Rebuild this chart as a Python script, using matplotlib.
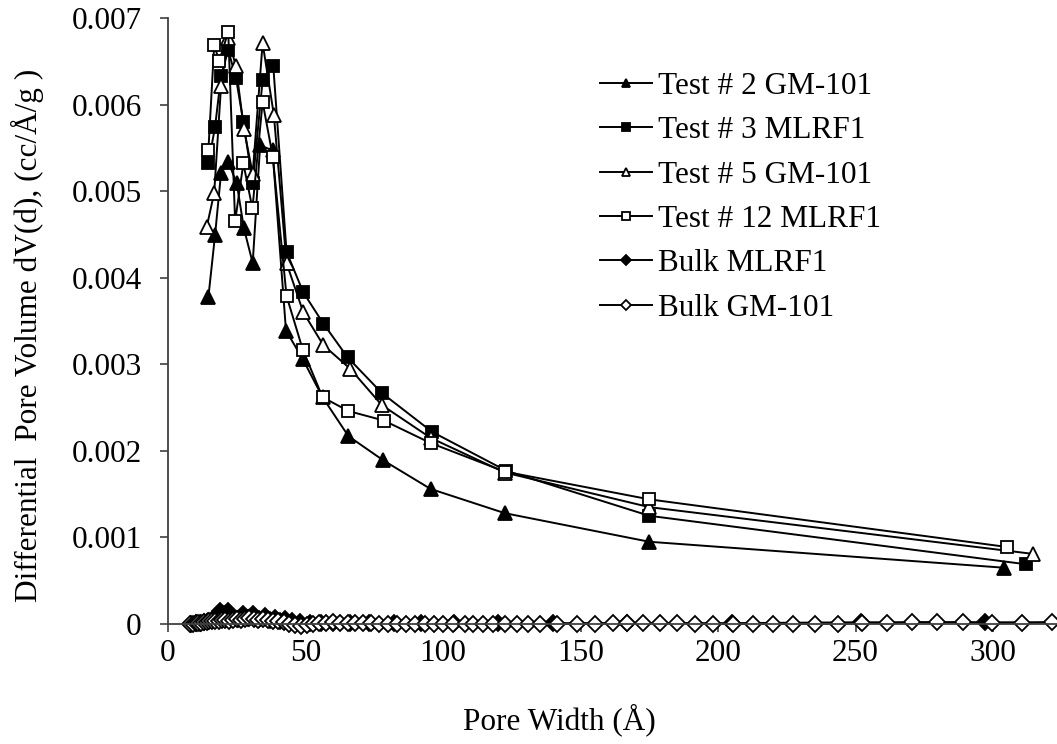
import matplotlib
matplotlib.use("Agg")
import matplotlib.pyplot as plt
from matplotlib.ticker import FixedLocator, FuncFormatter

plt.rcParams['font.family'] = ['Liberation Serif', 'DejaVu Serif']

# ---------------- data ----------------
t2_x = [14.7, 17.1, 19.3, 21.9, 25.0, 27.6, 30.8, 33.5, 38.0, 42.9, 49.0, 56.2, 65.6, 78.3, 95.5, 122.5, 175.0, 304.0]
t2_y = [0.00378, 0.00449, 0.00521, 0.00534, 0.00509, 0.00457, 0.00417, 0.00553, 0.00547, 0.00339,
        0.00306, 0.00262, 0.00217, 0.00189, 0.00156, 0.00128, 0.00095, 0.00065]

t3_x = [14.7, 17.1, 19.3, 21.9, 24.7, 27.4, 30.8, 34.4, 38.3, 43.1, 49.2, 56.5, 65.3, 77.7, 96.0, 123.0, 175.0, 312.0]
t3_y = [0.00532, 0.00574, 0.00633, 0.00663, 0.00631, 0.00580, 0.00509, 0.00628, 0.00644, 0.00430,
        0.00383, 0.00347, 0.00308, 0.00267, 0.00222, 0.00177, 0.00125, 0.00069]

t5_x = [14.1, 16.8, 19.3, 21.9, 24.7, 27.6, 30.8, 34.4, 38.5, 43.1, 49.2, 56.5, 66.2, 77.7, 95.5, 122.5, 175.0, 314.5]
t5_y = [0.00459, 0.00498, 0.00622, 0.00677, 0.00644, 0.00572, 0.00520, 0.00671, 0.00588, 0.00417,
        0.00360, 0.00322, 0.00295, 0.00253, 0.00215, 0.00175, 0.00135, 0.00081]

t12_x = [14.7, 16.8, 18.6, 21.9, 24.4, 27.4, 30.7, 34.4, 38.1, 43.1, 49.0, 56.2, 65.6, 78.5, 95.5, 122.5, 175.0, 305.0]
t12_y = [0.00548, 0.00669, 0.00650, 0.00684, 0.00465, 0.00532, 0.00480, 0.00603, 0.00540, 0.00379,
         0.00317, 0.00262, 0.00246, 0.00235, 0.00209, 0.00176, 0.00144, 0.00089]

bulk_ml_x = [8.5, 10.0, 11.5, 13.0, 14.5, 16.0, 17.5, 18.9, 20.3, 21.8, 23.5, 25.3, 27.3, 29.0, 30.9, 33.0,
             35.3, 37.0, 38.9, 40.7, 42.5, 45.0, 48.0, 51.5, 55.5, 60.0, 66.0, 73.0, 82.0, 92.0, 104.0,
             120.0, 140.0, 167.0, 205.0, 252.0, 297.0, 330.0]
bulk_ml_y = [0.00000, 0.00001, 0.00001, 0.00002, 0.00003, 0.00005, 0.00009, 0.00015, 0.00012, 0.00015,
             0.00008, 0.00006, 0.000115, 0.00007, 0.000115, 0.00006, 0.00009, 0.00005, 0.00007, 0.00004,
             0.00006, 0.00003, 0.00002, 0.00001, 0.00001, 0.00001, 0.00001, 0.00001, 0.00001, 0.00001,
             0.00001, 0.00001, 0.00001, 0.00001, 0.00001, 0.00002, 0.00002, 0.00002]

bulk_gm_x = [8.0, 9.0, 10.0, 11.0, 12.0, 13.0, 14.0, 15.0, 16.1, 17.2, 18.4, 19.6, 20.9, 22.2, 23.6, 25.0,
             26.5, 28.0, 29.6, 31.2, 32.9, 34.6, 36.4, 38.2, 40.1, 42.0, 44.0, 46.1, 48.2, 50.4, 52.7,
             55.0, 57.5, 60.0, 62.6, 65.3, 68.0, 70.9, 73.8, 76.8, 79.9, 83.1, 86.4, 89.8, 93.3, 96.6,
             100.0, 103.6, 108.0, 110.9, 114.5, 118.2, 122.5, 126.9, 130.9, 135.3, 141.5, 148.7, 155.3,
             161.8, 166.9, 172.7, 178.9, 185.1, 191.6, 198.2, 205.5, 212.7, 220.0, 227.3, 235.3, 243.6,
             252.4, 261.5, 270.5, 279.6, 289.1, 299.6, 310.5, 321.5]
bulk_gm_y = [0.00000, 0.00000, 0.00001, 0.00001, 0.00001, 0.00002, 0.00002, 0.00003, 0.00003, 0.00004,
             0.00004, 0.00005, 0.00005, 0.00004, 0.00005, 0.00006, 0.00005, 0.00006, 0.00007, 0.00006,
             0.00005, 0.00006, 0.00005, 0.00004, 0.00003, 0.00002, 0.00000, -0.00001, -0.00002, -0.00001,
             0.00000, 0.00001, 0.00001, 0.00002, 0.00001, 0.00001, 0.00001, 0.00001, 0.00001, 0.00000,
             0.00000, 0.00000, 0.00000, 0.00000, 0.00000, 0.00000, 0.00000, 0.00000, 0.00000, 0.00000,
             0.00000, 0.00000, 0.00000, 0.00000, 0.00000, 0.00000, 0.00000, 0.00000, 0.00000, 0.00001,
             0.00001, 0.00001, 0.00001, 0.00001, 0.00000, 0.00000, 0.00000, 0.00000, 0.00000, 0.00000,
             0.00000, 0.00000, 0.00001, 0.00001, 0.00002, 0.00002, 0.00002, 0.00001, 0.00001, 0.00002]

labels = ['Test # 2 GM-101', 'Test # 3 MLRF1', 'Test # 5 GM-101', 'Test # 12 MLRF1',
          'Bulk MLRF1', 'Bulk GM-101']

# ---------------- figure ----------------
W, H = 1057, 744
fig = plt.figure(figsize=(W / 100, H / 100), dpi=100)
ax = fig.add_axes([168 / W, 120 / H, (W - 168) / W, 606 / H])

lw = 1.4
mew = 1.3
series = [
    (t2_x, t2_y, '^', 'black', 9.5),
    (t3_x, t3_y, 's', 'black', 8.5),
    (t5_x, t5_y, '^', 'white', 9.5),
    (t12_x, t12_y, 's', 'white', 8.5),
    (bulk_ml_x, bulk_ml_y, 'D', 'black', 8.0),
    (bulk_gm_x, bulk_gm_y, 'D', 'white', 8.0),
]
for (x, y, m, fc, ms), lab in zip(series, labels):
    ax.plot(x, y, color='black', lw=lw, marker=m, ms=ms, mfc=fc, mec='black', mew=mew,
            label=lab, clip_on=False)

ax.set_xlim(0, (W - 168) / 2.75)
ax.set_ylim(0, 0.007)
ax.xaxis.set_major_locator(FixedLocator([0, 50, 100, 150, 200, 250, 300]))
ax.yaxis.set_major_locator(FixedLocator([0, 0.001, 0.002, 0.003, 0.004, 0.005, 0.006, 0.007]))
ax.yaxis.set_major_formatter(FuncFormatter(lambda v, p: '0' if v == 0 else f'{v:.3f}'))

for s in ['top', 'right']:
    ax.spines[s].set_visible(False)
for s in ['left', 'bottom']:
    ax.spines[s].set_color('#404040')
    ax.spines[s].set_linewidth(1.3)
ax.tick_params(direction='out', length=6, width=1.2, color='#404040', labelsize=22.5,
               labelcolor='black')
ax.tick_params(axis='y', pad=13)
ax.tick_params(axis='x', pad=5)

# axis titles placed where they sit in the reference
fig.text(559 / W, 1 - 720 / H, 'Pore Width (Å)', fontsize=22.5, ha='center', va='center')
fig.text(27 / W, 1 - 335 / H, 'Differential  Pore Volume dV(d), (cc/Å/g )', fontsize=22.5,
         ha='center', va='center', rotation=90)

leg = ax.legend(loc='upper left', bbox_to_anchor=(600 / W, 1 - 72 / H),
                bbox_transform=fig.transFigure, frameon=False, fontsize=22.5,
                handlelength=1.65, handletextpad=0.2, labelspacing=0.49,
                markerscale=0.6, borderpad=0, borderaxespad=0)

fig.savefig('out.png', dpi=100)
